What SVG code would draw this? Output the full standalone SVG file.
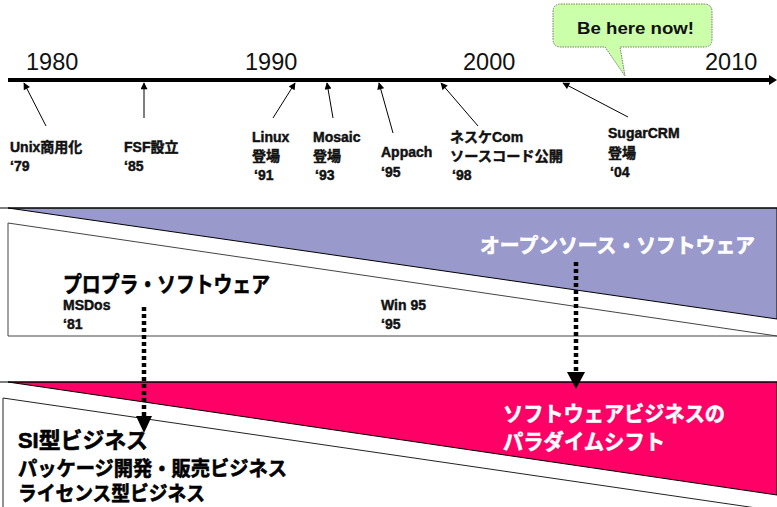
<svg xmlns="http://www.w3.org/2000/svg" width="777" height="507" viewBox="0 0 777 507">
<style>
text{font-family:"Liberation Sans","Noto Sans CJK JP",sans-serif;}
.yr{font-size:23.5px;fill:#111;}
.lb{font-size:14px;font-weight:bold;fill:#111;stroke:#111;stroke-width:0.45;}
.big{font-size:22px;font-weight:bold;fill:#000;stroke:#000;stroke-width:0.6;}
.bigw{font-size:20.5px;font-weight:bold;fill:#fff;stroke:#fff;stroke-width:0.6;}
.wt{font-size:21px;font-weight:bold;fill:#fff;stroke:#fff;stroke-width:0.6;}
.bz{font-size:20px;font-weight:bold;fill:#000;stroke:#000;stroke-width:0.6;}
.thin{stroke:#000;stroke-width:1;fill:none;marker-end:url(#ah);}
.dot{stroke:#000;stroke-width:4.5;stroke-dasharray:4 3;fill:none;}
.band{stroke:#000;stroke-width:1;}
</style>
<defs>
<marker id="ah" viewBox="0 0 10 10" refX="9" refY="5" markerWidth="9" markerHeight="7" markerUnits="userSpaceOnUse" orient="auto">
<path d="M0,0 L10,5 L0,10 z" fill="#000"/>
</marker>
</defs>
<rect width="777" height="507" fill="#fff"/>

<g id="bands">
<polygon points="8,208 777,208 777,319" fill="#9999cc" class="band"/>
<line x1="0" y1="208" x2="777" y2="208" stroke="#000" stroke-width="1.2"/>
<polygon points="8,223 777,336 8,336" fill="#fff" stroke="#444" stroke-width="1"/>
<polygon points="8,382 777,382 777,495" fill="#ff0066" class="band"/>
<line x1="0" y1="382" x2="777" y2="382" stroke="#000" stroke-width="1.2"/>
<polygon points="3,398 777,511 3,511" fill="#fff" stroke="#222" stroke-width="1"/>
</g>

<g id="timeline">
<line x1="8" y1="80" x2="770" y2="80" stroke="#000" stroke-width="4"/>
<polygon points="769,75 777,80 769,85" fill="#000"/>
<text class="yr" x="26" y="70">1980</text>
<text class="yr" x="245" y="70">1990</text>
<text class="yr" x="463" y="70">2000</text>
<text class="yr" x="705" y="70">2010</text>
</g>

<g id="callout">
<path d="M561,4 H704 Q712,4 712,12 V39 Q712,47 704,47 H620 L625,76 L605,47 H561 Q553,47 553,39 V12 Q553,4 561,4 Z" fill="#ccffaa" stroke="#777" stroke-width="1" stroke-dasharray="1.5 1"/>
<text x="577" y="34" font-size="16" font-weight="bold" fill="#111" textLength="117" lengthAdjust="spacingAndGlyphs">Be here now!</text>
</g>

<g id="connectors">
<line class="thin" x1="46" y1="126" x2="24" y2="83"/>
<line class="thin" x1="144" y1="118" x2="144" y2="83"/>
<line class="thin" x1="273" y1="118" x2="295" y2="83"/>
<line class="thin" x1="333" y1="118" x2="327" y2="83"/>
<line class="thin" x1="393" y1="133" x2="379" y2="83"/>
<line class="thin" x1="478" y1="126" x2="441" y2="83"/>
<line class="thin" x1="628" y1="117" x2="563" y2="83"/>
<line class="dot" x1="144" y1="307" x2="144" y2="416"/>
<polygon points="136,416 152,416 144,433" fill="#000"/>
<line class="dot" x1="576" y1="262" x2="576" y2="372"/>
<polygon points="567,372 585,372 576,389" fill="#000"/>
</g>

<g id="ev-unix"><text class="lb" x="10" y="152">Unix商用化</text><text class="lb" x="10" y="171">‘79</text></g>
<g id="ev-fsf"><text class="lb" x="124" y="152">FSF設立</text><text class="lb" x="124" y="171">‘85</text></g>
<g id="ev-linux"><text class="lb" x="252" y="142">Linux</text><text class="lb" x="252" y="161">登場</text><text class="lb" x="254" y="180">‘91</text></g>
<g id="ev-mosaic"><text class="lb" x="313" y="142">Mosaic</text><text class="lb" x="313" y="161">登場</text><text class="lb" x="315" y="180">‘93</text></g>
<g id="ev-appach"><text class="lb" x="381" y="157">Appach</text><text class="lb" x="381" y="177">‘95</text></g>
<g id="ev-netscape"><text class="lb" x="450" y="142">ネスケCom</text><text class="lb" x="450" y="161" textLength="113" lengthAdjust="spacingAndGlyphs">ソースコード公開</text><text class="lb" x="452" y="180">‘98</text></g>
<g id="ev-sugar"><text class="lb" x="608" y="138">SugarCRM</text><text class="lb" x="608" y="158">登場</text><text class="lb" x="610" y="177">‘04</text></g>

<g id="proprietary">
<text class="big" x="63" y="292" textLength="207" lengthAdjust="spacingAndGlyphs">プロプラ・ソフトウェア</text>
<text class="lb" x="63" y="310">MSDos</text>
<text class="lb" x="63" y="329">‘81</text>
<text class="lb" x="381" y="310">Win 95</text>
<text class="lb" x="381" y="329">‘95</text>
</g>

<g id="opensource">
<text class="bigw" x="480" y="253" textLength="275" lengthAdjust="spacingAndGlyphs">オープンソース・ソフトウェア</text>
</g>

<g id="paradigm">
<text class="wt" x="503" y="421" textLength="222" lengthAdjust="spacingAndGlyphs">ソフトウェアビジネスの</text>
<text class="wt" x="503" y="449" textLength="162" lengthAdjust="spacingAndGlyphs">パラダイムシフト</text>
</g>

<g id="business">
<text class="big" x="18" y="448" textLength="130" lengthAdjust="spacingAndGlyphs">SI型ビジネス</text>
<text class="bz" x="18" y="476" textLength="269" lengthAdjust="spacingAndGlyphs">パッケージ開発・販売ビジネス</text>
<text class="bz" x="18" y="501" textLength="187" lengthAdjust="spacingAndGlyphs">ライセンス型ビジネス</text>
</g>
</svg>
